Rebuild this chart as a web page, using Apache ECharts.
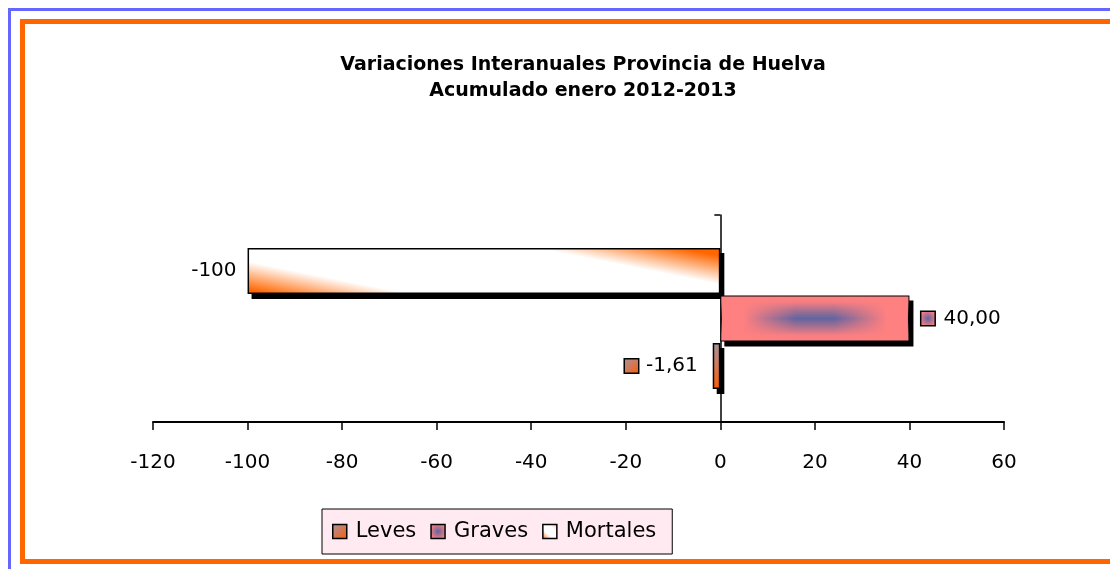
<!DOCTYPE html>
<html>
<head>
<meta charset="utf-8">
<script src="https://cdn.jsdelivr.net/npm/echarts@6/dist/echarts.min.js"></script>
<style>
html,body{margin:0;padding:0;background:#fff;}
#chart{width:1110px;height:569px;}
</style>
</head>
<body>
<div id="chart"></div>
<script>
// ---- data ----
const titleLines = ['Variaciones Interanuales Provincia de Huelva', 'Acumulado enero 2012-2013'];
const categories = [''];
const seriesNames = ['Leves', 'Graves', 'Mortales'];
const levesValues = [-1.61];
const gravesValues = [40];
const mortalesValues = [-100];
const valueLabels = { Leves: '-1,61', Graves: '40,00', Mortales: '-100' };
const xMin = -120, xMax = 60, xInterval = 20;

// ---- styles ----
const FONT = 'DejaVu Sans';
const BAR_W = 46, BAR_GAP = 1.5;
const ORANGE = '#FF6600', PINK = '#FF8080', BLUE = '#6264A0';

const levesColor = { type: 'linear', x: 0, y: 0, x2: 1, y2: 1,
  colorStops: [{ offset: 0, color: '#A09696' }, { offset: 0.3, color: '#C08478' }, { offset: 1, color: '#FF5A00' }] };
const gravesColor = { type: 'linear', x: 0, y: 0, x2: 1, y2: 0,
  colorStops: [{ offset: 0, color: PINK }, { offset: 0.12, color: PINK }, { offset: 0.4, color: BLUE },
               { offset: 0.6, color: BLUE }, { offset: 0.88, color: PINK }, { offset: 1, color: PINK }] };
const gravesIconColor = { type: 'radial', x: 0.5, y: 0.5, r: 0.55,
  colorStops: [{ offset: 0, color: BLUE }, { offset: 1, color: PINK }] };
const mortalesColor = { type: 'linear', x: 0, y: 1, x2: 0.055, y2: -1.845,
  colorStops: [{ offset: 0, color: ORANGE }, { offset: 0.03, color: ORANGE }, { offset: 0.24, color: '#FFFFFF' },
               { offset: 0.76, color: '#FFFFFF' }, { offset: 0.97, color: ORANGE }, { offset: 1, color: ORANGE }] };
const mortalesIconColor = { type: 'linear', x: 0, y: 1, x2: 1, y2: 0,
  colorStops: [{ offset: 0, color: ORANGE }, { offset: 0.35, color: '#FFFFFF' }, { offset: 0.7, color: '#FFFFFF' }, { offset: 1, color: '#FFC0A0' }] };

const keyIcon = c => ({ width: 13, height: 13, backgroundColor: c, borderColor: '#000', borderWidth: 1.5 });
const barItem = c => ({ color: c, borderColor: '#000', borderWidth: 1.5 });

// slot of each series inside the category band (top to bottom)
const slots = { Mortales: 0, Graves: 1, Leves: 2 };
const shadowData = [
  [mortalesValues[0], 0, slots.Mortales],
  [gravesValues[0], 0, slots.Graves],
  [levesValues[0], 0, slots.Leves]
];

function barRect(api) {
  const value = api.value(0), cat = api.value(1), slot = api.value(2);
  const zero = api.coord([0, cat]);
  const end = api.coord([value, cat]);
  const total = 3 * BAR_W + 2 * BAR_GAP;
  const y0 = zero[1] - total / 2 + slot * (BAR_W + BAR_GAP);
  return { x: Math.min(zero[0], end[0]), y: y0, width: Math.abs(end[0] - zero[0]), height: BAR_W };
}

const chart = echarts.init(document.getElementById('chart'));
chart.setOption({
  backgroundColor: '#fff',
  animation: false,
  title: {
    text: titleLines.join('\n'),
    left: 583, top: 52, padding: 0, textAlign: 'center',
    textStyle: { fontFamily: FONT, fontWeight: 'bold', fontSize: 19, lineHeight: 26, color: '#000' }
  },
  graphic: [
    { type: 'rect', z: -1, shape: { x: 8, y: 8, width: 1102, height: 3 }, style: { fill: '#6666FF' } },
    { type: 'rect', z: -1, shape: { x: 8, y: 8, width: 3, height: 561 }, style: { fill: '#6666FF' } },
    { type: 'rect', z: -1, shape: { x: 20, y: 19, width: 1090, height: 5 }, style: { fill: ORANGE } },
    { type: 'rect', z: -1, shape: { x: 20, y: 19, width: 5, height: 545 }, style: { fill: ORANGE } },
    { type: 'rect', z: -1, shape: { x: 20, y: 559, width: 1090, height: 5 }, style: { fill: ORANGE } }
  ],
  legend: {
    data: [
      { name: 'Leves' },
      { name: 'Graves', itemStyle: { color: gravesIconColor } },
      { name: 'Mortales', itemStyle: { color: mortalesIconColor } }
    ],
    left: 322, top: 509,
    padding: [12, 16, 12, 10],
    itemWidth: 14, itemHeight: 14, itemGap: 14,
    backgroundColor: '#FFEAF2', borderColor: '#000', borderWidth: 1,
    icon: 'rect',
    itemStyle: { borderColor: '#000', borderWidth: 1.5 },
    textStyle: { fontFamily: FONT, fontSize: 21, color: '#000', padding: [0, 0, 0, 4] }
  },
  grid: { left: 153, right: 106, top: 215, bottom: 147, containLabel: false },
  xAxis: {
    type: 'value', min: xMin, max: xMax, interval: xInterval,
    axisLine: { show: true, onZero: false, lineStyle: { color: '#000', width: 2 } },
    axisTick: { show: true, inside: false, length: 8, lineStyle: { color: '#000', width: 1.5 } },
    axisLabel: { fontFamily: FONT, fontSize: 20, color: '#000', margin: 31 },
    splitLine: { show: false }
  },
  yAxis: {
    type: 'category', data: categories,
    axisLine: { show: true, onZero: true, lineStyle: { color: '#000', width: 1.5 } },
    axisTick: { show: true, length: 6, lineStyle: { color: '#000', width: 1.5 } },
    axisLabel: { show: false },
    splitLine: { show: false }
  },
  series: [
    { name: 'barShadow', type: 'custom', z: 1, silent: true, data: shadowData, encode: { x: 0, y: 1 },
      renderItem: (params, api) => {
        const r = barRect(api);
        return { type: 'rect', shape: { x: r.x + 4, y: r.y + 5, width: r.width, height: r.height }, style: { fill: '#000' } };
      } },
    { name: 'Mortales', type: 'bar', data: mortalesValues, barWidth: BAR_W, barGap: (BAR_GAP / BAR_W * 100) + '%',
      itemStyle: barItem(mortalesColor),
      label: { show: true, position: 'left', distance: 11, formatter: () => valueLabels.Mortales,
               fontFamily: FONT, fontSize: 20, color: '#000' } },
    { name: 'Graves', type: 'bar', data: gravesValues, barWidth: BAR_W, barGap: (BAR_GAP / BAR_W * 100) + '%',
      itemStyle: barItem(gravesColor),
      label: { show: true, position: 'right', distance: 12, formatter: () => '{k|}{t|' + valueLabels.Graves + '}',
               fontFamily: FONT, fontSize: 20, color: '#000',
               rich: { k: keyIcon(gravesIconColor), t: { fontFamily: FONT, fontSize: 20, color: '#000', padding: [0, 0, 0, 9] } } } },
    { name: 'Leves', type: 'bar', data: levesValues, barWidth: BAR_W, barGap: (BAR_GAP / BAR_W * 100) + '%',
      itemStyle: barItem(levesColor),
      label: { show: true, position: 'left', distance: 15, formatter: () => '{k|}{t|' + valueLabels.Leves + '}',
               fontFamily: FONT, fontSize: 20, color: '#000',
               rich: { k: keyIcon(levesColor), t: { fontFamily: FONT, fontSize: 20, color: '#000', padding: [0, 0, 0, 8] } } } },
    { name: 'gravesShade', type: 'custom', z: 3, silent: true, data: [shadowData[1]], encode: { x: 0, y: 1 },
      renderItem: (params, api) => {
        const r = barRect(api);
        return { type: 'rect', shape: { x: r.x + 1, y: r.y + 1, width: r.width - 2, height: r.height - 2 },
          style: { fill: { type: 'linear', x: 0, y: 0, x2: 0, y2: 1, colorStops: [
            { offset: 0, color: 'rgba(255,128,128,1)' }, { offset: 0.12, color: 'rgba(255,128,128,0.95)' },
            { offset: 0.33, color: 'rgba(255,128,128,0.4)' }, { offset: 0.5, color: 'rgba(255,128,128,0)' },
            { offset: 0.67, color: 'rgba(255,128,128,0.4)' },
            { offset: 0.88, color: 'rgba(255,128,128,0.95)' }, { offset: 1, color: 'rgba(255,128,128,1)' } ] } } };
      } }
  ]
});
</script>
</body>
</html>
